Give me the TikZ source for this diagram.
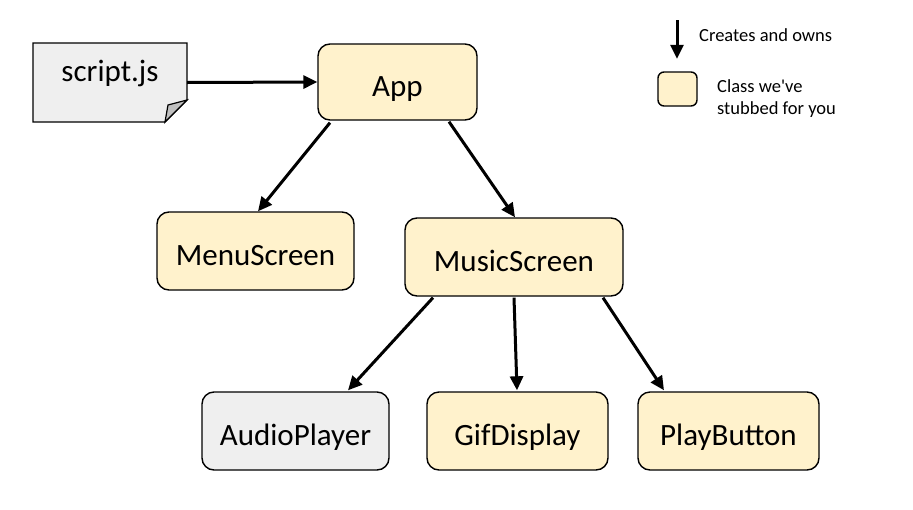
\documentclass[tikz,border=0pt]{standalone}
\usepackage{fontspec}
\setmainfont{Carlito}
\usetikzlibrary{arrows.meta,calc}
\definecolor{stub}{HTML}{FFF2CC}
\definecolor{grayfill}{HTML}{EFEFEF}
\definecolor{foldfill}{HTML}{C0C0C0}
\begin{document}
\begin{tikzpicture}[x=1pt,y=-1pt,
  cls/.style={draw=black, line width=1.4pt, rounded corners=12pt, fill=stub,
    inner sep=0pt, text height=29pt, text depth=0pt, font=\fontsize{31}{36}\selectfont},
  own/.style={line width=3pt, -{Triangle[length=14pt,width=13pt]}},
  legtext/.style={font=\fontsize{18.5}{23}\selectfont, align=left, anchor=west, inner sep=0pt}]
\useasboundingbox (0,0) rectangle (913,509);
% script.js document
\path[draw=black, line width=1.4pt, fill=grayfill] (33,43) -- (187,43) -- (187,100) -- (165,122) -- (33,122) -- cycle;
\path[draw=black, line width=1.2pt, fill=foldfill] (187,100) -- (168,105) -- (165,122) -- cycle;
\node[inner sep=0pt, minimum width=154pt, minimum height=79pt] (script) at (110,82.5) {};
\node[font=\fontsize{31}{36}\selectfont, inner sep=0pt] (scripttxt) at (110,73) {script.js};
% classes
\node[cls, minimum width=159pt, minimum height=76pt] (app) at (397.5,82) {App};
\node[cls, minimum width=197pt, minimum height=78pt] (menu) at (255.5,251) {MenuScreen};
\node[cls, minimum width=218pt, minimum height=78pt] (music) at (514,257) {MusicScreen};
\node[cls, fill=grayfill, minimum width=187pt, minimum height=78pt] (audio) at (295.5,431) {AudioPlayer};
\node[cls, minimum width=181pt, minimum height=78pt] (gif) at (517.5,431) {GifDisplay};
\node[cls, minimum width=181pt, minimum height=78pt] (play) at (728.5,431) {PlayButton};
% connectors
\draw[own] (script.east) -- (app.west);
\draw[own] ($(app.south)+(-67.5,2)$) -- ($(menu.north)+(2.5,0)$);
\draw[own] ($(app.south)+(51.5,1)$) -- ($(music.north)+(1,0)$);
\draw[own] ($(music.south)+(-81,1)$) -- ($(audio.north)+(52.5,-1)$);
\draw[own] ($(music.south)+(0,1)$) -- ($(gif.north)+(-0.5,-1)$);
\draw[own] ($(music.south)+(89,1)$) -- ($(play.north)+(-64.5,-1)$);
% legend
\coordinate (legtop) at (677,20);
\node[inner sep=0pt, minimum size=0pt] (legend1) at (677,59) {};
\draw[own] (legtop) -- (legend1);
\node[legtext] (legend1txt) at (699,35) {Creates and owns};
\node[draw=black, line width=1.4pt, fill=stub, rounded corners=6pt, inner sep=0pt, minimum width=39pt, minimum height=34pt] (legbox) at (677.5,89) {};
\node[legtext, font=\fontsize{18.5}{21.5}\selectfont] (legboxtxt) at (717,98.5) {Class we\textquotesingle ve\\stubbed for you};
\end{tikzpicture}
\end{document}
